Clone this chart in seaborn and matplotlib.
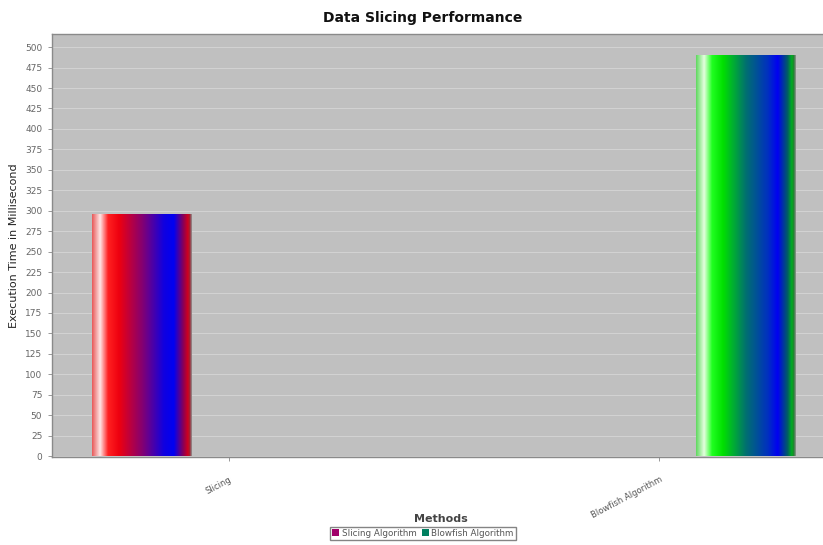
import numpy as np
import pandas as pd
import matplotlib
matplotlib.use("Agg")
import matplotlib.pyplot as plt
from matplotlib.colors import LinearSegmentedColormap
from matplotlib.patches import Patch
import seaborn as sns

# ---- data ----
categories = ["Slicing", "Blowfish Algorithm"]
series_names = ["Slicing Algorithm", "Blowfish Algorithm"]
slicing_values = [295, np.nan]
blowfish_values = [np.nan, 490]
y_ticks = list(range(0, 501, 25))

df = pd.DataFrame({
    "Methods": categories * 2,
    "Series": [series_names[0]] * 2 + [series_names[1]] * 2,
    "Value": slicing_values + blowfish_values,
})

sns.set_theme(style="white")
plt.rcParams['font.family'] = ['DejaVu Sans']

fig = plt.figure(figsize=(8.23, 5.45), dpi=100)
ax = fig.add_axes([52 / 823, 1 - 457 / 545, (836 - 52) / 823, (457 - 34) / 545])
ax.set_facecolor("#c0c0c0")

sns.barplot(data=df, x="Methods", y="Value", hue="Series", hue_order=series_names,
            order=categories, width=0.8, gap=0.42, dodge=True, ax=ax,
            linewidth=0, legend=False, errorbar=None,
            palette=["#a0006a", "#008060"])

grad_red = LinearSegmentedColormap.from_list("r", [
    (0.0, "#e85a5a"), (0.08, "#ffe6e6"), (0.16, "#ff2020"), (0.27, "#ee0010"),
    (0.5, "#860070"), (0.72, "#1000e0"), (0.82, "#0000f2"), (0.92, "#900050"),
    (0.96, "#d00020"), (0.98, "#a02030"), (1.0, "#909090")])
grad_green = LinearSegmentedColormap.from_list("g", [
    (0.0, "#60d860"), (0.08, "#e6ffe0"), (0.16, "#20ff20"), (0.27, "#00e000"),
    (0.5, "#007070"), (0.72, "#0030c0"), (0.82, "#0000f2"), (0.92, "#006060"),
    (0.96, "#00b020"), (0.98, "#208030"), (1.0, "#909090")])
cmaps = [grad_red, grad_green]

grad = np.linspace(0, 1, 256).reshape(1, -1)
for cont, cm in zip(ax.containers, cmaps):
    for bar in cont:
        h = bar.get_height()
        if not np.isfinite(h) or h <= 0:
            continue
        x0, w = bar.get_x(), bar.get_width()
        bar.set_alpha(0)
        ax.imshow(grad, cmap=cm, aspect="auto", extent=[x0, x0 + w, 0, h],
                  zorder=3, interpolation="bilinear")

ax.set_xlim(-0.41, 1.41)
ax.set_ylim(-1, 516)
ax.set_yticks(y_ticks)
ax.set_yticklabels([str(t) for t in y_ticks], fontsize=6.5, color="#666666")
ax.set_xticks([0, 1])
ax.set_xticklabels(categories, fontsize=6, color="#555555", rotation=28,
                   ha="right", va="top", rotation_mode="anchor")
ax.tick_params(axis="both", which="both", length=3, width=0.6, color="#888888",
               direction="out", left=True, bottom=True, pad=4)
ax.tick_params(axis="x", pad=10)

ax.grid(axis="y", color="#d2d2d2", linewidth=0.8, linestyle="-")
ax.set_axisbelow(True)
for s in ax.spines.values():
    s.set_color("#8a8a8a")
    s.set_linewidth(1.0)

ax.set_xlabel("")
ax.set_ylabel("Execution Time in Millisecond", fontsize=8, color="#222222", labelpad=4)
fig.text(423 / 823, 1 - 18 / 545, "Data Slicing Performance", fontsize=10,
         fontweight="bold", ha="center", va="center", color="#111111")
fig.text(441 / 823, 1 - 519 / 545, "Methods", fontsize=8, fontweight="bold",
         ha="center", va="center", color="#444444")

handles = [Patch(facecolor="#a0006a", edgecolor="none"),
           Patch(facecolor="#008060", edgecolor="none")]
fig.legend(handles, series_names, loc="lower center",
           bbox_to_anchor=(423 / 823, 1 / 545), ncol=2, fontsize=6.3,
           frameon=True, fancybox=False, edgecolor="#666666", handlelength=0.8,
           handleheight=0.8, handletextpad=0.3, columnspacing=0.6,
           borderpad=0.2, labelcolor="#555555")

fig.savefig("out.png", dpi=100, facecolor="white")
